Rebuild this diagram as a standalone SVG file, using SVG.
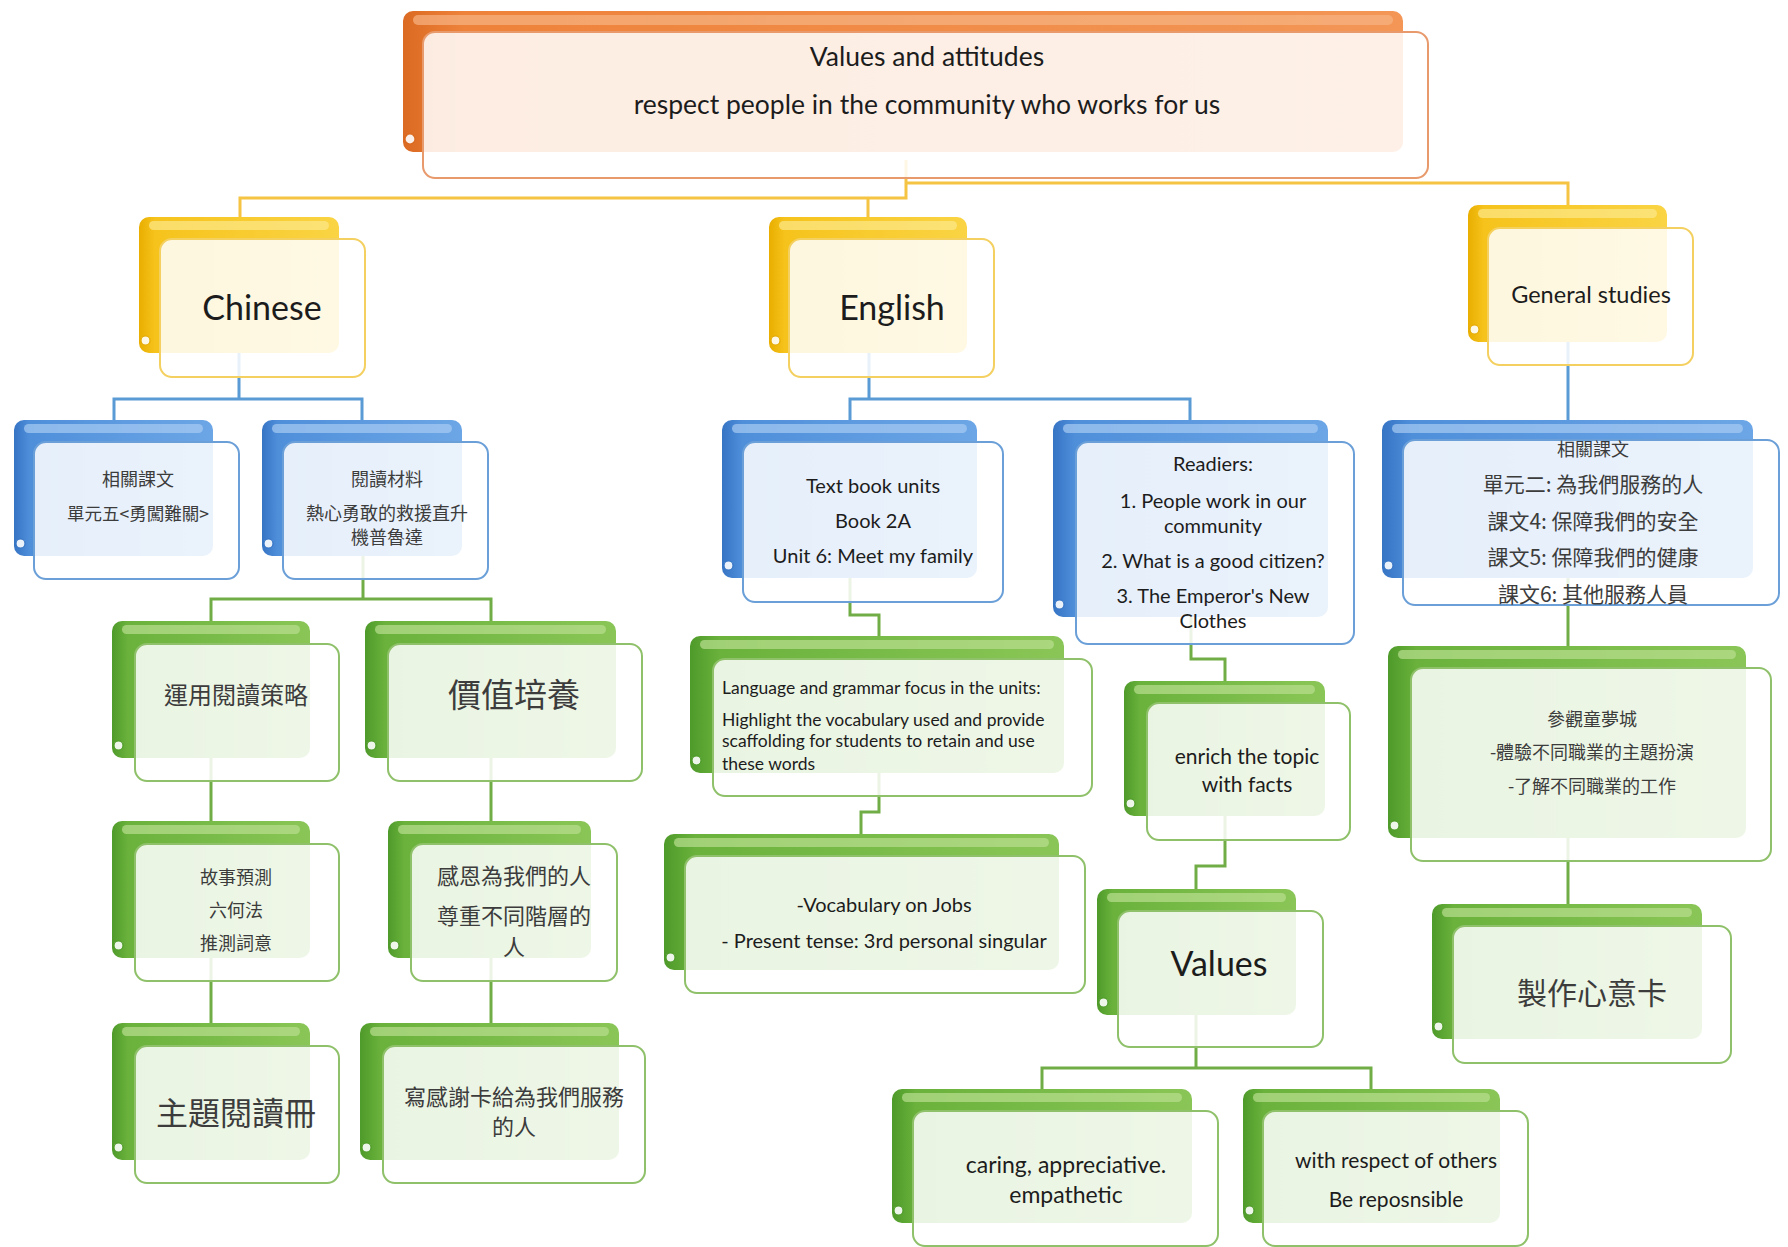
<svg xmlns="http://www.w3.org/2000/svg" width="1788" height="1247" viewBox="0 0 1788 1247">
<defs>
<linearGradient id="gO" x1="0" y1="0" x2="1" y2="0"><stop offset="0" stop-color="#DB6A22"/><stop offset="0.06" stop-color="#EE823A"/><stop offset="1" stop-color="#F39656"/></linearGradient>
<linearGradient id="gY" x1="0" y1="0" x2="1" y2="0"><stop offset="0" stop-color="#E9AE00"/><stop offset="0.08" stop-color="#F6C31C"/><stop offset="1" stop-color="#FAD444"/></linearGradient>
<linearGradient id="gB" x1="0" y1="0" x2="1" y2="0"><stop offset="0" stop-color="#3674C4"/><stop offset="0.08" stop-color="#4F8FDA"/><stop offset="1" stop-color="#6CA6E6"/></linearGradient>
<linearGradient id="gG" x1="0" y1="0" x2="1" y2="0"><stop offset="0" stop-color="#4E9A2A"/><stop offset="0.08" stop-color="#6AB23C"/><stop offset="1" stop-color="#8AC657"/></linearGradient>
</defs>
<style>
.t{font-family:Lato,"Open Sans","Noto Sans CJK TC",sans-serif;fill:#1c1c1c;text-anchor:middle}
.s{text-anchor:start}
.c{font-family:"Noto Sans CJK TC","Noto Sans CJK SC",sans-serif;fill:#3c3c3c;text-anchor:middle}
.fr{fill:#fff;fill-opacity:.86;stroke-width:2}
.hl{opacity:.7}
.cu{fill:#fff;stroke-width:1.2;opacity:.9}
.o .bk{fill:url(#gO)} .o .fr{stroke:#E89A6C} .o .hl{fill:#F7B483} .o .cu{stroke:#D9681F}
.y .bk{fill:url(#gY)} .y .fr{stroke:#F4D060} .y .hl{fill:#FCE88A} .y .cu{stroke:#E3A800}
.b .bk{fill:url(#gB)} .b .fr{stroke:#6B9FD8} .b .hl{fill:#A6CBF2} .b .cu{stroke:#3674C4}
.g .bk{fill:url(#gG)} .g .fr{stroke:#8FC06A} .g .hl{fill:#B9DE90} .g .cu{stroke:#4E9A2A}
.ly{fill:none;stroke:#F5C443;stroke-width:3}
.lb{fill:none;stroke:#5B9BD5;stroke-width:3}
.lg{fill:none;stroke:#70AD47;stroke-width:3}
</style>

<g id="connectors">
<path class="ly" d="M906,160 V198 H240 V217 M906,183 H1568 V205 M868,198 V217"/>
<path class="lb" d="M239,353 V399 M114,420 V399 H362 V420 M869,353 V399 M850,420 V399 H1190 V420 M1568,342 V420"/>
<path class="lg" d="M363,556 V599 M211,621 V599 H491 V621 M211,758 V821 M211,958 V1023 M491,758 V821 M491,958 V1023 M850,578 V615 H879 V636 M879,773 V812 H861 V834 M1191,617 V659 H1225 V681 M1225,816 V866 H1196 V889 M1196,1015 V1068 M1042,1089 V1068 H1371 V1089 M1568,578 V646 M1568,838 V904"/>
</g>

<g id="root" class="o">
<rect class="bk" x="403" y="11" width="1000" height="141" rx="10"/>
<rect class="hl" x="413" y="15" width="980" height="10" rx="5"/>
<rect class="cu" x="405" y="134" width="10" height="10" rx="5"/>
<rect class="fr" x="423" y="32" width="1005" height="146" rx="12"/>
<text class="t" x="927" y="66" font-size="26.5">Values and attitudes</text>
<text class="t" x="927" y="114" font-size="26.5">respect people in the community who works for us</text>
</g>

<g id="chinese" class="y">
<rect class="bk" x="139" y="217" width="200" height="136" rx="10"/>
<rect class="hl" x="149" y="221" width="180" height="9" rx="4.5"/>
<rect class="cu" x="141" y="336" width="9" height="9" rx="4.5"/>
<rect class="fr" x="160" y="239" width="205" height="138" rx="12"/>
<text class="t" x="262" y="320" font-size="34">Chinese</text>
</g>

<g id="english" class="y">
<rect class="bk" x="769" y="217" width="198" height="136" rx="10"/>
<rect class="hl" x="779" y="221" width="178" height="9" rx="4.5"/>
<rect class="cu" x="771" y="336" width="9" height="9" rx="4.5"/>
<rect class="fr" x="789" y="239" width="205" height="138" rx="12"/>
<text class="t" x="892" y="320" font-size="34">English</text>
</g>

<g id="general-studies" class="y">
<rect class="bk" x="1468" y="205" width="199" height="137" rx="10"/>
<rect class="hl" x="1478" y="209" width="179" height="9" rx="4.5"/>
<rect class="cu" x="1470" y="325" width="9" height="9" rx="4.5"/>
<rect class="fr" x="1488" y="228" width="205" height="137" rx="12"/>
<text class="t" x="1591" y="303" font-size="23.5">General studies</text>
</g>

<g id="c-text" class="b">
<rect class="bk" x="14" y="420" width="199" height="136" rx="10"/>
<rect class="hl" x="24" y="424" width="179" height="9" rx="4.5"/>
<rect class="cu" x="16" y="539" width="9" height="9" rx="4.5"/>
<rect class="fr" x="34" y="442" width="205" height="137" rx="12"/>
<text class="c" x="138" y="486" font-size="18">相關課文</text>
<text class="c" x="138" y="520" font-size="17.5">單元五&lt;勇闖難關&gt;</text>
</g>

<g id="c-reading" class="b">
<rect class="bk" x="262" y="420" width="200" height="136" rx="10"/>
<rect class="hl" x="272" y="424" width="180" height="9" rx="4.5"/>
<rect class="cu" x="264" y="539" width="9" height="9" rx="4.5"/>
<rect class="fr" x="283" y="442" width="205" height="137" rx="12"/>
<text class="c" x="387" y="486" font-size="18">閱讀材料</text>
<text class="c" x="387" y="520" font-size="18">熱心勇敢的救援直升</text>
<text class="c" x="387" y="544" font-size="18">機普魯達</text>
</g>

<g id="c-strategy" class="g">
<rect class="bk" x="112" y="621" width="198" height="137" rx="10"/>
<rect class="hl" x="122" y="625" width="178" height="9" rx="4.5"/>
<rect class="cu" x="114" y="741" width="9" height="9" rx="4.5"/>
<rect class="fr" x="135" y="644" width="204" height="137" rx="12"/>
<text class="c" x="236" y="704" font-size="24">運用閱讀策略</text>
</g>

<g id="c-predict" class="g">
<rect class="bk" x="112" y="821" width="198" height="137" rx="10"/>
<rect class="hl" x="122" y="825" width="178" height="9" rx="4.5"/>
<rect class="cu" x="114" y="941" width="9" height="9" rx="4.5"/>
<rect class="fr" x="135" y="844" width="204" height="137" rx="12"/>
<text class="c" x="236" y="884" font-size="18">故事預測</text>
<text class="c" x="236" y="917" font-size="18">六何法</text>
<text class="c" x="236" y="950" font-size="18">推測詞意</text>
</g>

<g id="c-book" class="g">
<rect class="bk" x="112" y="1023" width="198" height="137" rx="10"/>
<rect class="hl" x="122" y="1027" width="178" height="9" rx="4.5"/>
<rect class="cu" x="114" y="1143" width="9" height="9" rx="4.5"/>
<rect class="fr" x="135" y="1046" width="204" height="137" rx="12"/>
<text class="c" x="236" y="1125" font-size="32">主題閱讀冊</text>
</g>

<g id="c-values" class="g">
<rect class="bk" x="365" y="621" width="251" height="137" rx="10"/>
<rect class="hl" x="375" y="625" width="231" height="9" rx="4.5"/>
<rect class="cu" x="367" y="741" width="9" height="9" rx="4.5"/>
<rect class="fr" x="388" y="644" width="254" height="137" rx="12"/>
<text class="c" x="514" y="707" font-size="33">價值培養</text>
</g>

<g id="c-grateful" class="g">
<rect class="bk" x="388" y="821" width="203" height="137" rx="10"/>
<rect class="hl" x="398" y="825" width="183" height="9" rx="4.5"/>
<rect class="cu" x="390" y="941" width="9" height="9" rx="4.5"/>
<rect class="fr" x="411" y="844" width="206" height="137" rx="12"/>
<text class="c" x="514" y="884" font-size="22">感恩為我們的人</text>
<text class="c" x="514" y="924" font-size="22">尊重不同階層的</text>
<text class="c" x="514" y="955" font-size="22">人</text>
</g>

<g id="c-card" class="g">
<rect class="bk" x="360" y="1023" width="259" height="137" rx="10"/>
<rect class="hl" x="370" y="1027" width="239" height="9" rx="4.5"/>
<rect class="cu" x="362" y="1143" width="9" height="9" rx="4.5"/>
<rect class="fr" x="383" y="1046" width="262" height="137" rx="12"/>
<text class="c" x="514" y="1105" font-size="22">寫感謝卡給為我們服務</text>
<text class="c" x="514" y="1135" font-size="22">的人</text>
</g>

<g id="e-textbook" class="b">
<rect class="bk" x="722" y="420" width="255" height="158" rx="10"/>
<rect class="hl" x="732" y="424" width="235" height="9" rx="4.5"/>
<rect class="cu" x="724" y="561" width="9" height="9" rx="4.5"/>
<rect class="fr" x="743" y="442" width="260" height="160" rx="12"/>
<text class="t" x="873" y="493" font-size="20">Text book units</text>
<text class="t" x="873" y="528" font-size="20">Book 2A</text>
<text class="t" x="873" y="563" font-size="20">Unit 6: Meet my family</text>
</g>

<g id="e-readers" class="b">
<rect class="bk" x="1053" y="420" width="275" height="197" rx="10"/>
<rect class="hl" x="1063" y="424" width="255" height="9" rx="4.5"/>
<rect class="cu" x="1055" y="600" width="9" height="9" rx="4.5"/>
<rect class="fr" x="1076" y="442" width="278" height="202" rx="12"/>
<text class="t" x="1213" y="471" font-size="20">Readiers:</text>
<text class="t" x="1213" y="508" font-size="20">1. People work in our</text>
<text class="t" x="1213" y="533" font-size="20">community</text>
<text class="t" x="1213" y="568" font-size="20">2.  What is a good citizen?</text>
<text class="t" x="1213" y="603" font-size="20">3. The Emperor's New</text>
<text class="t" x="1213" y="628" font-size="20">Clothes</text>
</g>

<g id="e-language" class="g">
<rect class="bk" x="690" y="636" width="374" height="137" rx="10"/>
<rect class="hl" x="700" y="640" width="354" height="9" rx="4.5"/>
<rect class="cu" x="692" y="756" width="9" height="9" rx="4.5"/>
<rect class="fr" x="713" y="659" width="379" height="137" rx="12"/>
<text class="t s" x="722" y="694" font-size="17.5">Language and grammar focus in the units:</text>
<text class="t s" x="722" y="726" font-size="17.5">Highlight the vocabulary used and provide</text>
<text class="t s" x="722" y="747" font-size="17.5">scaffolding for students to retain and use</text>
<text class="t s" x="722" y="770" font-size="17.5">these words</text>
</g>

<g id="e-vocabulary" class="g">
<rect class="bk" x="664" y="834" width="395" height="136" rx="10"/>
<rect class="hl" x="674" y="838" width="375" height="9" rx="4.5"/>
<rect class="cu" x="666" y="953" width="9" height="9" rx="4.5"/>
<rect class="fr" x="685" y="856" width="400" height="137" rx="12"/>
<text class="t" x="884" y="912" font-size="20">-Vocabulary on Jobs</text>
<text class="t" x="884" y="948" font-size="20">- Present tense: 3rd personal singular</text>
</g>

<g id="e-enrich" class="g">
<rect class="bk" x="1124" y="681" width="201" height="135" rx="10"/>
<rect class="hl" x="1134" y="685" width="181" height="9" rx="4.5"/>
<rect class="cu" x="1126" y="799" width="9" height="9" rx="4.5"/>
<rect class="fr" x="1147" y="703" width="203" height="137" rx="12"/>
<text class="t" x="1247" y="764" font-size="21">enrich the topic</text>
<text class="t" x="1247" y="792" font-size="21">with facts</text>
</g>

<g id="e-values" class="g">
<rect class="bk" x="1097" y="889" width="199" height="126" rx="10"/>
<rect class="hl" x="1107" y="893" width="179" height="9" rx="4.5"/>
<rect class="cu" x="1099" y="998" width="9" height="9" rx="4.5"/>
<rect class="fr" x="1118" y="911" width="205" height="136" rx="12"/>
<text class="t" x="1219" y="976" font-size="34">Values</text>
</g>

<g id="e-caring" class="g">
<rect class="bk" x="892" y="1089" width="300" height="134" rx="10"/>
<rect class="hl" x="902" y="1093" width="280" height="9" rx="4.5"/>
<rect class="cu" x="894" y="1206" width="9" height="9" rx="4.5"/>
<rect class="fr" x="913" y="1111" width="305" height="135" rx="12"/>
<text class="t" x="1066" y="1173" font-size="23">caring, appreciative.</text>
<text class="t" x="1066" y="1203" font-size="23">empathetic</text>
</g>

<g id="e-respect" class="g">
<rect class="bk" x="1243" y="1089" width="257" height="134" rx="10"/>
<rect class="hl" x="1253" y="1093" width="237" height="9" rx="4.5"/>
<rect class="cu" x="1245" y="1206" width="9" height="9" rx="4.5"/>
<rect class="fr" x="1263" y="1111" width="265" height="135" rx="12"/>
<text class="t" x="1396" y="1168" font-size="21">with respect of others</text>
<text class="t" x="1396" y="1207" font-size="21">Be reposnsible</text>
</g>

<g id="gs-text" class="b">
<rect class="bk" x="1382" y="420" width="371" height="158" rx="10"/>
<rect class="hl" x="1392" y="424" width="351" height="9" rx="4.5"/>
<rect class="cu" x="1384" y="561" width="9" height="9" rx="4.5"/>
<rect class="fr" x="1403" y="440" width="376" height="165" rx="12"/>
<text class="c" x="1593" y="456" font-size="18">相關課文</text>
<text class="c" x="1593" y="492" font-size="21">單元二: 為我們服務的人</text>
<text class="c" x="1593" y="529" font-size="21">課文4: 保障我們的安全</text>
<text class="c" x="1593" y="565" font-size="21">課文5: 保障我們的健康</text>
<text class="c" x="1593" y="602" font-size="21">課文6: 其他服務人員</text>
</g>

<g id="gs-visit" class="g">
<rect class="bk" x="1388" y="646" width="358" height="192" rx="10"/>
<rect class="hl" x="1398" y="650" width="338" height="9" rx="4.5"/>
<rect class="cu" x="1390" y="821" width="9" height="9" rx="4.5"/>
<rect class="fr" x="1411" y="668" width="360" height="193" rx="12"/>
<text class="c" x="1592" y="726" font-size="18">參觀童夢城</text>
<text class="c" x="1592" y="759" font-size="18">-體驗不同職業的主題扮演</text>
<text class="c" x="1592" y="793" font-size="18">-了解不同職業的工作</text>
</g>

<g id="gs-card" class="g">
<rect class="bk" x="1432" y="904" width="270" height="135" rx="10"/>
<rect class="hl" x="1442" y="908" width="250" height="9" rx="4.5"/>
<rect class="cu" x="1434" y="1022" width="9" height="9" rx="4.5"/>
<rect class="fr" x="1453" y="926" width="278" height="137" rx="12"/>
<text class="c" x="1592" y="1004" font-size="30">製作心意卡</text>
</g>
</svg>
